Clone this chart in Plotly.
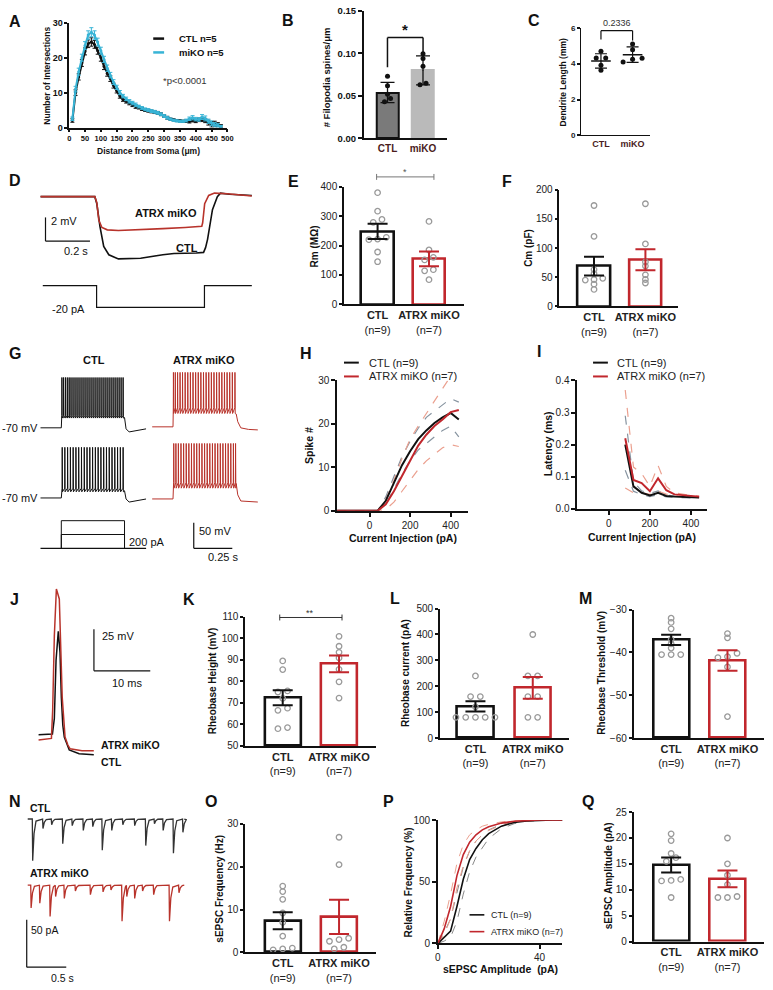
import plotly.graph_objects as go

W, H = 773, 990
FONT = "Liberation Sans, Arial, sans-serif"
BLACK = "#111111"
RED = "#c1272d"
TRED = "#b8332b"
GREY_PT = "#9a9a9a"
CYAN = "#38b4d6"
GREY_DASH = "#8794a0"
RED_DASH = "#eba08f"
MAROON = "#4a1c1c"

# ---------------- data ----------------
# A: Sholl analysis
sholl_r = list(range(10, 490, 10))
sholl_ctl = [2, 10, 14.5, 18.5, 21.8, 24, 24.5, 23.8, 22, 20, 17.5, 15.5, 14, 12, 10.5, 9, 8, 7.5,
             7, 6.5, 6, 5.7, 5.3, 5, 4.8, 4.6, 4.4, 4.2, 3.8, 3.3, 2.8, 2.4, 2.2, 2.0, 1.9, 1.8,
             1.8, 1.7, 2.0, 1.8, 2.2, 2.3, 2.0, 1.4, 0.9, 1.0, 0.8, 0.4]
sholl_ko = [2.5, 11, 16, 20, 23.5, 26.5, 27.3, 26.5, 24.5, 22, 19.5, 17, 15, 13, 11.5, 10, 9, 8.2,
            7.5, 7, 6.5, 6, 5.6, 5.2, 5, 4.7, 4.5, 4.2, 3.8, 3.3, 2.8, 2.4, 2.1, 1.9, 1.8, 1.8,
            2.0, 2.5, 2.8, 2.4, 2.3, 3.0, 2.6, 1.8, 1.2, 0.8, 0.6, 0.3]
sholl_ctl_sem = [0.5, 0.8, 0.9, 1.0, 1.0, 1.1, 1.2, 1.1, 1.0, 1.0, 0.9, 0.8, 0.8, 0.7, 0.6, 0.6, 0.5, 0.5,
                 0.5, 0.5, 0.5, 0.4, 0.4, 0.4, 0.4, 0.4, 0.4, 0.4, 0.4, 0.4, 0.4, 0.3, 0.3, 0.3, 0.3, 0.3,
                 0.3, 0.4, 0.4, 0.4, 0.5, 0.6, 0.6, 0.7, 0.8, 0.8, 0.6, 0.4]
sholl_ko_sem = [0.5, 0.8, 1.0, 1.0, 1.1, 1.2, 1.3, 1.2, 1.1, 1.0, 0.9, 0.9, 0.8, 0.7, 0.6, 0.6, 0.5, 0.5,
                0.5, 0.5, 0.5, 0.4, 0.4, 0.4, 0.4, 0.4, 0.4, 0.4, 0.4, 0.4, 0.4, 0.3, 0.3, 0.3, 0.3, 0.3,
                0.4, 0.5, 0.6, 0.5, 0.5, 0.7, 0.7, 0.6, 0.7, 0.6, 0.5, 0.3]

# B: filopodia spines
filo_ctl = [0.073, 0.062, 0.052, 0.047, 0.043]
filo_ko = [0.0997, 0.094, 0.085, 0.065, 0.063]
filo_mean = [0.054, 0.080]
filo_sd = [0.012, 0.017]

# C: dendrite length
dend_ctl = [4.69, 4.31, 4.31, 3.91, 3.63]
dend_ko = [5.1, 4.77, 4.3, 4.25, 4.09]
dend_mean = [4.15, 4.5]
dend_sd = [0.4, 0.43]

# D: hyperpolarising step response (s, mV relative to rest)
d_t_ctl = [0, 0.244, 0.253, 0.267, 0.284, 0.307, 0.35, 0.45, 0.55, 0.60, 0.70, 0.733, 0.742, 0.751,
           0.773, 0.795, 0.809, 0.85, 0.95]
d_v_ctl = [0, 0, -0.6, -2.5, -4.2, -4.9, -5.25, -5.2, -4.9, -4.8, -4.75, -4.7, -4.3, -3.6, -1.1, 0,
           0.3, 0.2, 0.1]
d_t_ko = [0, 0.244, 0.253, 0.262, 0.276, 0.30, 0.35, 0.45, 0.55, 0.65, 0.725, 0.729, 0.738, 0.756,
          0.782, 0.84, 0.95]
d_v_ko = [0, 0, -0.5, -2.0, -2.6, -2.8, -2.85, -2.8, -2.7, -2.6, -2.5, -2.2, -0.6, 0.1, 0.3, 0.25, 0.05]
d_step_t = [0.01, 0.252, 0.252, 0.737, 0.737, 0.95]
d_step_pa = [0, 0, -20, -20, 0, 0]

# E / F
rm_ctl = [380, 317, 289, 279, 228, 222, 220, 178, 145]
rm_ko = [282, 185, 160, 151, 118, 114, 84]
rm_mean = [248, 155]
rm_sem = [26, 25]
cm_ctl = [173, 120, 63, 56, 48, 46, 45, 38, 29]
cm_ko = [176, 107, 76, 69, 54, 46, 40]
cm_mean = [69, 80]
cm_sem = [16, 18]

# G: spike trains (ms from step onset)
g_spk_ctl1 = [3, 14, 26, 38, 50, 62, 75, 88, 101, 114, 127, 140, 153, 166, 179, 192, 205, 218, 231,
              244, 257, 270, 283, 296, 309, 322, 335, 348, 361, 374, 387, 400]
g_spk_ko1 = [2, 14, 29, 45, 61, 78, 95, 112, 129, 146, 163, 180, 197, 214, 231, 248, 265, 282, 299,
             316, 333, 350, 367, 384, 401]
g_spk_ctl2 = [5, 22, 40, 58, 76, 94, 112, 130, 148, 166, 184, 202, 220, 238, 256, 274, 292, 310, 328,
              346, 364, 382, 400]
g_spk_ko2 = [4, 18, 34, 51, 68, 85, 102, 119, 136, 153, 170, 187, 204, 221, 238, 255, 272, 289, 306,
             323, 340, 357, 374, 391, 405]
g_after_t = [0, 10, 30, 80, 140]
g_after_ctl1 = [-50, -72, -78, -75, -72]
g_after_ctl2 = [-56, -72, -78, -75, -72]
g_after_ko1 = [-45, -60, -72, -75, -76]
g_after_ko2 = [-40, -62, -74, -75, -76]
g_levels_pa = [200, 400]

# H / I: current injection (pA)
inj = [-160, -120, -80, -40, 0, 40, 80, 120, 160, 200, 240, 280, 320, 360, 400, 440]
spk_ctl = [0, 0, 0, 0, 0, 0, 2.3, 6.5, 10.5, 13.7, 16.5, 18.5, 20.2, 21.5, 22.5, 21]
spk_ctl_hi = [0, 0, 0, 0, 0, 0, 3.2, 8, 12.5, 16, 19, 21.5, 23, 24.5, 25.8, 25]
spk_ctl_lo = [0, 0, 0, 0, 0, 0, 1.5, 5, 8.5, 11.5, 14, 15.5, 17, 18.5, 19.5, 17]
spk_ko = [0, 0, 0, 0, 0, 0, 1.5, 4.5, 8, 11.5, 15, 17.5, 19.5, 21, 22.7, 23.2]
spk_ko_hi = [0, 0, 0, 0, 0, 0, 2.5, 7, 12, 16.5, 19.5, 22.3, 25, 28, 31, 33]
spk_ko_lo = [0, 0, 0, 0, 0, 0, 0.3, 2, 4.5, 7, 9.5, 11.5, 13, 14.5, 15.2, 14.8]
inj_lat = [80, 120, 160, 200, 240, 280, 320, 360, 400, 440]
lat_ctl = [0.20, 0.07, 0.05, 0.042, 0.05, 0.04, 0.038, 0.037, 0.036, 0.035]
lat_ctl_hi = [0.29, 0.085, 0.056, 0.048, 0.056, 0.043, 0.04, 0.039, 0.038, 0.037]
lat_ctl_lo = [0.12, 0.055, 0.044, 0.038, 0.044, 0.037, 0.036, 0.035, 0.034, 0.033]
lat_ko = [0.22, 0.09, 0.08, 0.055, 0.095, 0.058, 0.045, 0.042, 0.04, 0.038]
lat_ko_hi = [0.37, 0.13, 0.11, 0.07, 0.135, 0.07, 0.05, 0.045, 0.042, 0.04]
lat_ko_lo = [0.065, 0.05, 0.05, 0.045, 0.055, 0.046, 0.04, 0.038, 0.037, 0.035]

# J: rheobase action potentials (ms, mV)
j_t_ctl = [0, 2.46, 2.8, 3.1, 3.5, 3.8, 4.04, 4.3, 4.56, 5.0, 5.44, 7.2, 9.8]
j_v_ctl = [0.2, 0.6, 10, 45, 62.5, 50, 22.6, 6, -1.2, -5.5, -8.9, -11.3, -11.9]
j_t_ko = [0, 2.28, 2.5, 2.8, 3.16, 3.68, 4.2, 4.7, 5.2, 5.6, 7.7, 9.8]
j_v_ko = [-3, -2.0, 15, 60, 88, 82, 22.6, -1.2, -6, -8.3, -9.5, -9.5]

# K / L / M
rh_ctl = [89.4, 85.4, 75.5, 75, 72, 67.5, 66.5, 58.5, 58]
rh_ko = [100.8, 96.2, 93.4, 90.8, 85.5, 79.7, 72.2]
rh_mean = [72.3, 88]
rh_sem = [3.5, 3.9]
rc_ctl = [240, 160, 160, 120, 80, 80, 80, 80, 80]
rc_ko = [400, 240, 240, 160, 160, 80, 80]
rc_mean = [122, 194]
rc_sem = [20, 42]
rt_ctl = [-32, -33, -34.5, -37, -38, -39, -40.5, -40.5, -40.5]
rt_ko = [-35.6, -36.6, -40.2, -41, -41.2, -43.4, -55]
rt_mean = [-37.1, -41.9]
rt_sem = [1.2, 2.4]

# N: sEPSC events (s, pA)
n_ctl_t = [0.06, 0.19, 0.30, 0.44, 0.56, 0.70, 0.82, 0.94, 1.06, 1.20, 1.35, 1.49, 1.60, 1.71, 1.84, 1.96]
n_ctl_amp = [44, 10, 6, 26, 7, 12, 8, 33, 12, 6, 7, 28, 5, 12, 36, 14]
n_ko_t = [0.04, 0.15, 0.28, 0.35, 0.46, 0.60, 0.79, 0.95, 1.05, 1.19, 1.25, 1.35, 1.45, 1.59, 1.79, 1.91]
n_ko_amp = [24, 19, 33, 12, 14, 6, 10, 7, 5, 38, 12, 14, 6, 10, 38, 8]

# O / P / Q
fq_ctl = [15.5, 14.2, 12.4, 9.2, 7, 3.8, 1.0, 0.8, 0.6]
fq_ko = [26.9, 20.5, 3.3, 3.0, 2.6, 1.2, 0.8]
fq_mean = [7.4, 8.3]
fq_sem = [2.0, 4.0]
amp_x = [0, 2.5, 5, 7.5, 10, 12.5, 15, 17.5, 20, 25, 30, 35, 40, 45, 49]
cum_ctl = [0, 5, 10, 30, 52, 68, 77, 84, 89, 95, 98, 99.2, 99.8, 100, 100]
cum_ctl_hi = [0, 9, 20, 42, 62, 75, 83, 88, 92, 96.5, 98.5, 99.5, 100, 100, 100]
cum_ctl_lo = [0, 2, 5, 18, 40, 58, 70, 78, 85, 93, 97, 99, 99.6, 100, 100]
cum_ko = [0, 12, 30, 55, 72, 82, 88, 92, 94.5, 97.5, 99, 99.6, 100, 100, 100]
cum_ko_hi = [0, 18, 40, 65, 80, 88, 92, 95, 96.5, 98.5, 99.5, 99.8, 100, 100, 100]
cum_ko_lo = [0, 7, 20, 45, 63, 75, 83, 88, 91.5, 96, 98.5, 99.4, 99.9, 100, 100]
am_ctl = [20.8, 19.5, 17, 16.2, 15.5, 12, 11.8, 11.7, 8.5]
am_ko = [20, 15, 12.8, 11, 8.7, 8.5, 8.5]
am_mean = [14.8, 12.1]
am_sem = [1.45, 1.6]

GROUP_TICKS = ["<b>CTL</b><br>(n=9)", "<b>ATRX miKO</b><br>(n=7)"]

# ---------------- figure helpers ----------------
fig = go.Figure()
layout = {}
n_ax = [0]

AX = dict(showgrid=False, zeroline=False, showline=True, linecolor=BLACK, linewidth=1.5,
          ticks="outside", ticklen=4, tickwidth=1.5, tickcolor=BLACK,
          tickfont=dict(family=FONT, size=10, color="#222"), fixedrange=True)


def px(x):
    return x / W


def py(y):
    return 1 - y / H


def new_axes(box, xr, yr, xkw=None, ykw=None, hidden=False):
    n_ax[0] += 1
    s = "" if n_ax[0] == 1 else str(n_ax[0])
    x0, x1, y0, y1 = box
    xa = dict(AX, domain=[px(x0), px(x1)], range=xr, anchor="y" + s)
    ya = dict(AX, domain=[py(y1), py(y0)], range=yr, anchor="x" + s)
    if hidden:
        xa["visible"] = False
        ya["visible"] = False
    xa.update(xkw or {})
    ya.update(ykw or {})
    layout["xaxis" + s] = xa
    layout["yaxis" + s] = ya
    return "x" + s, "y" + s


def trace_axes(box, x_at, y_at):
    # x_at / y_at: (pixel, value, pixels per unit)
    x0, x1, y0, y1 = box
    xr = [x_at[1] + (x0 - x_at[0]) / x_at[2], x_at[1] + (x1 - x_at[0]) / x_at[2]]
    yr = [y_at[1] + (y_at[0] - y1) / y_at[2], y_at[1] + (y_at[0] - y0) / y_at[2]]
    return new_axes(box, xr, yr, hidden=True)


def txt(x, y, s, size=11, bold=False, anchor="center", color=BLACK, angle=0):
    fig.add_annotation(x=px(x), y=py(y), xref="paper", yref="paper", showarrow=False,
                       text=f"<b>{s}</b>" if bold else s, textangle=angle,
                       font=dict(size=size, family=FONT, color=color),
                       xanchor=anchor, yanchor="middle")


def seg(x0, y0, x1, y1, color=BLACK, width=1.5):
    fig.add_shape(type="line", xref="paper", yref="paper", x0=px(x0), y0=py(y0),
                  x1=px(x1), y1=py(y1), line=dict(color=color, width=width))


def line(xa, ya, x, y, color, width=1.2, dash=None, mode="lines", **kw):
    fig.add_trace(go.Scatter(x=x, y=y, mode=mode, xaxis=xa, yaxis=ya, hoverinfo="skip",
                             line=dict(color=color, width=width, dash=dash), **kw))


def spread(vals, span, tol=0.03, step=0.17):
    order = sorted(range(len(vals)), key=lambda i: vals[i])
    offs = [0.0] * len(vals)
    groups, cur = [], [order[0]]
    for i in order[1:]:
        if abs(vals[i] - vals[cur[-1]]) < tol * span:
            cur.append(i)
        else:
            groups.append(cur)
            cur = [i]
    groups.append(cur)
    for g in groups:
        for j, i in enumerate(g):
            offs[i] = (j - (len(g) - 1) / 2) * step
    return offs


def bar_panel(box, xr, yr, dtick, ctl, ko, mean, sem, bw=0.64):
    xa, ya = new_axes(box, xr, yr,
                      xkw=dict(tickvals=[0, 1], ticktext=GROUP_TICKS, ticks="",
                               tickfont=dict(family=FONT, size=11, color="#222")),
                      ykw=dict(dtick=dtick, tick0=yr[0], ticklen=3))
    base = yr[0]
    fig.add_trace(go.Bar(x=[0, 1], y=[m - base for m in mean], base=[base, base], width=bw,
                         marker=dict(color="white", line=dict(color=[BLACK, RED], width=2.6)),
                         xaxis=xa, yaxis=ya, hoverinfo="skip"))
    span = yr[1] - yr[0]
    for i, (pts, col) in enumerate(((ctl, BLACK), (ko, RED))):
        fig.add_trace(go.Scatter(x=[i + o for o in spread(pts, span)], y=pts, mode="markers",
                                 marker=dict(symbol="circle-open", size=5.5, color=GREY_PT,
                                             line=dict(width=1.3)),
                                 xaxis=xa, yaxis=ya, hoverinfo="skip"))
        fig.add_trace(go.Scatter(x=[i], y=[mean[i]], mode="markers",
                                 marker=dict(size=1, color=col),
                                 error_y=dict(type="data", array=[sem[i]], color=col,
                                              thickness=2, width=10),
                                 xaxis=xa, yaxis=ya, hoverinfo="skip"))
    return xa, ya


# ---------------- A ----------------
xa, ya = new_axes((67, 227, 17, 123), [0, 500], [0, 30],
                  xkw=dict(dtick=50, ticklen=3, tickfont=dict(family=FONT, size=7.5, color=BLACK),
                           tickprefix="<b>", ticksuffix="</b>"),
                  ykw=dict(dtick=10, ticklen=3, tickfont=dict(family=FONT, size=9, color=BLACK),
                           tickprefix="<b>", ticksuffix="</b>"))
for yv, sv, col in ((sholl_ctl, sholl_ctl_sem, BLACK), (sholl_ko, sholl_ko_sem, CYAN)):
    line(xa, ya, sholl_r, yv, col, width=2, mode="lines+markers",
         marker=dict(size=3, color=col),
         error_y=dict(type="data", array=sv, color=col, thickness=1, width=2))
seg(152, 33, 163, 33, BLACK, 2.5)
seg(152, 47, 163, 47, CYAN, 2.5)
txt(176, 33, "CTL n=5", 9.5, True, "left")
txt(176, 47, "miKO n=5", 9.5, True, "left")
txt(184, 75, "*p<0.0001", 9.5, False, "center", "#333")
txt(45, 70, "Number of Intersections", 8.5, True, angle=-90)
txt(147, 147, "Distance from Soma (μm)", 8.5, True)

# ---------------- B ----------------
xa, ya = new_axes((365, 449, 5, 134), [-0.67, 1.67], [0, 0.15],
                  xkw=dict(tickvals=[0, 1], ticktext=["<b>CTL</b>", "<b>miKO</b>"], ticks="",
                           tickfont=dict(family=FONT, size=10, color=MAROON)),
                  ykw=dict(dtick=0.05, tickformat=".2f",
                           tickfont=dict(family=FONT, size=9.5, color=BLACK),
                           tickprefix="<b>", ticksuffix="</b>"))
fig.add_trace(go.Bar(x=[0, 1], y=filo_mean, width=0.62, xaxis=xa, yaxis=ya, hoverinfo="skip",
                     marker=dict(color=["#7a7a7a", "#bababa"],
                                 line=dict(color=[BLACK, "#bababa"], width=2))))
for i, pts in enumerate((filo_ctl, filo_ko)):
    fig.add_trace(go.Scatter(x=[i + o for o in spread(pts, 0.15)], y=pts, mode="markers",
                             marker=dict(size=5, color=BLACK), xaxis=xa, yaxis=ya,
                             hoverinfo="skip"))
    fig.add_trace(go.Scatter(x=[i], y=[filo_mean[i]], mode="markers", marker=dict(size=1, color=BLACK),
                             error_y=dict(type="data", array=[filo_sd[i]], color=BLACK,
                                          thickness=1.3, width=7),
                             xaxis=xa, yaxis=ya, hoverinfo="skip"))
seg(389, 32, 425, 32, BLACK, 1.5)
seg(389, 32, 389, 62, BLACK, 1.5)
seg(425, 32, 425, 47, BLACK, 1.5)
txt(407, 24, "*", 15, True)
txt(327, 72, "# Filopodia spines/μm", 9.5, True, angle=-90)

# ---------------- C ----------------
xa, ya = new_axes((585, 655, 22, 131), [-0.625, 1.5625], [0, 6],
                  xkw=dict(tickvals=[0, 1], ticktext=["<b>CTL</b>", "<b>miKO</b>"], ticks="",
                           linewidth=1.2, tickfont=dict(family=FONT, size=9, color=MAROON)),
                  ykw=dict(dtick=2, ticklen=3, linewidth=1.2,
                           tickfont=dict(family=FONT, size=8, color="#222"),
                           tickprefix="<b>", ticksuffix="</b>"))
for i, pts in enumerate((dend_ctl, dend_ko)):
    fig.add_trace(go.Scatter(x=[i + o for o in spread(pts, 6, step=0.3)], y=pts, mode="markers",
                             marker=dict(size=5, color=BLACK), xaxis=xa, yaxis=ya,
                             hoverinfo="skip"))
    fig.add_trace(go.Scatter(x=[i - 0.31, i + 0.31], y=[dend_mean[i]] * 2, mode="lines",
                             line=dict(color=BLACK, width=1.5), xaxis=xa, yaxis=ya,
                             hoverinfo="skip"))
    fig.add_trace(go.Scatter(x=[i], y=[dend_mean[i]], mode="markers", marker=dict(size=1, color=BLACK),
                             error_y=dict(type="data", array=[dend_sd[i]], color=BLACK,
                                          thickness=1.2, width=6),
                             xaxis=xa, yaxis=ya, hoverinfo="skip"))
seg(605, 25, 637, 25, BLACK, 1.2)
seg(605, 25, 605, 34, BLACK, 1.2)
seg(637, 25, 637, 35, BLACK, 1.2)
txt(621, 17, "0.2336", 9, False, color="#333")
txt(567, 77, "Dendrite Length (mm)", 8.5, True, angle=-90)

# ---------------- D ----------------
xa, ya = trace_axes((30, 260, 170, 270), (38, 0, 225), (193, 0, 12))
line(xa, ya, d_t_ctl, d_v_ctl, BLACK, 1.6)
line(xa, ya, d_t_ko, d_v_ko, TRED, 1.6)
xa, ya = trace_axes((30, 260, 275, 312), (38, 0, 225), (283, 0, 1.1))
line(xa, ya, d_step_t, d_step_pa, BLACK, 1.2)
seg(43, 214, 43, 238, BLACK, 1.2)
seg(43, 238, 88, 238, BLACK, 1.2)
txt(47, 218, "2 mV", 11, anchor="left")
txt(60, 248, "0.2 s", 11, anchor="left")
txt(165, 210, "ATRX miKO", 11, True)
txt(186, 245, "CTL", 11, True)
txt(66, 307, "-20 pA", 11)

# ---------------- E / F ----------------
bar_panel((345, 466, 183, 302), [-0.654, 1.673], [0, 400], 100, rm_ctl, rm_ko, rm_mean, rm_sem)
seg(378, 173, 436, 173, "#777", 1)
seg(378, 170, 378, 176, "#777", 1)
seg(436, 170, 436, 176, "#777", 1)
txt(407, 168, "*", 9, False, color="#555")
txt(315, 243, "Rm (MΩ)", 10, True, angle=-90)
bar_panel((563, 683, 186, 304), [-0.673, 1.635], [0, 200], 50, cm_ctl, cm_ko, cm_mean, cm_sem)
txt(531, 245, "Cm (pF)", 10, True, angle=-90)


# ---------------- G ----------------
def spike_trace(spikes, rest, thr, ahp, peak, after_v):
    t, v = [-135, 0], [rest, rest]
    for s in spikes:
        t += [s, s + 0.8, s + 2.5]
        v += [thr, peak, ahp]
    t += [410 + a for a in g_after_t]
    v += after_v
    return t, v


for box, onset, base, spikes, lv, col, after in (
        ((30, 150, 360, 445), 59, 427, g_spk_ctl1, (-46, -51, 28), BLACK, g_after_ctl1),
        ((145, 265, 360, 445), 172, 426, g_spk_ko1, (-33, -44, 36), TRED, g_after_ko1),
        ((30, 150, 435, 512), 59, 498, g_spk_ctl2, (-51, -58, 28.6), BLACK, g_after_ctl2),
        ((145, 265, 435, 512), 172, 499, g_spk_ko2, (-38, -49, 38), TRED, g_after_ko2)):
    xa, ya = trace_axes(box, (onset, 0, 0.156), (base, -70, 0.52))
    t, v = spike_trace(spikes, -70, lv[0], lv[1], lv[2], after)
    line(xa, ya, t, v, col, 1.0)
xa, ya = trace_axes((30, 150, 512, 556), (59, 0, 0.156), (549, 0, 0.07))
line(xa, ya, [-135, 550], [0, 0], BLACK, 1.2)
for lvl in g_levels_pa:
    line(xa, ya, [0, 0, 410, 410], [0, lvl, lvl, 0], BLACK, 1.0)
txt(92, 358, "CTL", 11, True)
txt(203, 358, "ATRX miKO", 11, True)
txt(37, 427, "-70 mV", 11, anchor="right")
txt(37, 498, "-70 mV", 11, anchor="right")
txt(125, 543, "200 pA", 11, anchor="left")
seg(193, 523, 193, 549, BLACK, 1.2)
seg(193, 549, 232, 549, BLACK, 1.2)
txt(196, 531, "50 mV", 11, anchor="left")
txt(205, 558, "0.25 s", 11, anchor="left")

# ---------------- H ----------------
xa, ya = new_axes((338, 470, 379, 511), [-160, 483], [0, 30],
                  xkw=dict(tickvals=[0, 200, 400]), ykw=dict(dtick=10))
line(xa, ya, inj, spk_ctl_hi, GREY_DASH, 1.2, "dash")
line(xa, ya, inj, spk_ctl_lo, GREY_DASH, 1.2, "dash")
line(xa, ya, inj, spk_ko_hi, RED_DASH, 1.2, "dash")
line(xa, ya, inj, spk_ko_lo, RED_DASH, 1.2, "dash")
line(xa, ya, inj, spk_ctl, BLACK, 2)
line(xa, ya, inj, spk_ko, RED, 2)
seg(345, 361, 360, 361, BLACK, 2)
seg(345, 375, 360, 375, RED, 2)
txt(368, 361, "CTL (n=9)", 11, anchor="left", color="#222")
txt(368, 375, "ATRX miKO (n=7)", 11, anchor="left", color="#222")
txt(309, 445, "Spike #", 10.5, True, angle=-90)
txt(405, 539, "Current Injection (pA)", 10.5, True)

# ---------------- I ----------------
xa, ya = new_axes((581, 712, 379, 509), [-154, 477], [0, 0.4],
                  xkw=dict(tickvals=[0, 200, 400]), ykw=dict(dtick=0.1, tickformat=".1f"))
line(xa, ya, inj_lat, lat_ctl_hi, GREY_DASH, 1.2, "dash")
line(xa, ya, inj_lat, lat_ctl_lo, GREY_DASH, 1.2, "dash")
line(xa, ya, inj_lat, lat_ko_hi, RED_DASH, 1.2, "dash")
line(xa, ya, inj_lat, lat_ko_lo, RED_DASH, 1.2, "dash")
line(xa, ya, inj_lat, lat_ctl, BLACK, 2)
line(xa, ya, inj_lat, lat_ko, RED, 2)
seg(597, 361, 612, 361, BLACK, 2)
seg(597, 375, 612, 375, RED, 2)
txt(619, 361, "CTL (n=9)", 11, anchor="left", color="#222")
txt(619, 375, "ATRX miKO (n=7)", 11, anchor="left", color="#222")
txt(551, 443, "Latency (ms)", 10.5, True, angle=-90)
txt(647, 538, "Current Injection (pA)", 10.5, True)

# ---------------- J ----------------
xa, ya = trace_axes((30, 100, 580, 770), (36, 0, 5.7), (738, 0, 1.68))
line(xa, ya, j_t_ctl, j_v_ctl, BLACK, 1.5)
line(xa, ya, j_t_ko, j_v_ko, TRED, 1.5)
seg(92, 631, 92, 673, BLACK, 1.2)
seg(92, 673, 149, 673, BLACK, 1.2)
txt(98, 638, "25 mV", 11, anchor="left")
txt(108, 685, "10 ms", 11, anchor="left")
txt(97, 748, "ATRX miKO", 10.5, True, "left")
txt(97, 765, "CTL", 10.5, True, "left")

# ---------------- K / L / M ----------------
bar_panel((245, 377, 618, 749), [-0.667, 1.649], [50, 110], 10, rh_ctl, rh_ko, rh_mean, rh_sem)
seg(280, 619, 343, 619, "#333", 1)
seg(280, 616, 280, 622, "#333", 1)
seg(343, 616, 343, 622, "#333", 1)
txt(311, 614, "**", 9, False, color="#333")
txt(212, 683, "Rheobase Height (mV)", 10, True, angle=-90)
bar_panel((442, 573, 610, 741), [-0.621, 1.638], [0, 500], 100, rc_ctl, rc_ko, rc_mean, rc_sem)
txt(408, 675, "Rheobase current (pA)", 10, True, angle=-90)
bar_panel((638, 770, 611, 741), [-0.667, 1.649], [-60, -30], 10, rt_ctl, rt_ko, rt_mean, rt_sem)
txt(606, 675, "Rheobase Threshold (mV)", 10, True, angle=-90)


# ---------------- N ----------------
def epsc_trace(times, amps):
    t, v = [0.0], [0.0]
    for ts, a in zip(times, amps):
        t += [ts - 0.002, ts + 0.003, ts + 0.02, ts + 0.045]
        v += [0, -a, -a * 0.35, -a * 0.05]
    t.append(1.98)
    v.append(0)
    return t, v


xa, ya = trace_axes((20, 190, 800, 876), (25, 0, 80), (823, 0, 0.96))
t, v = epsc_trace(n_ctl_t, n_ctl_amp)
line(xa, ya, t, v, "#333", 1.3)
xa, ya = trace_axes((20, 190, 870, 940), (25, 0, 80), (890, 0, 0.96))
t, v = epsc_trace(n_ko_t, n_ko_amp)
line(xa, ya, t, v, TRED, 1.3)
txt(25, 812, "CTL", 10.5, True, "left")
txt(25, 878, "ATRX miKO", 10.5, True, "left")
seg(24, 925, 24, 973, BLACK, 1.2)
seg(24, 973, 64, 973, BLACK, 1.2)
txt(26, 935, "50 pA", 10.5, anchor="left")
txt(47, 984, "0.5 s", 10.5, anchor="left")

# ---------------- O / P / Q ----------------
bar_panel((245, 377, 828, 958), [-0.667, 1.649], [0, 30], 10, fq_ctl, fq_ko, fq_mean, fq_sem)
txt(219, 893, "sEPSC Frequency (Hz)", 10, True, angle=-90)

xa, ya = new_axes((440, 566, 824, 949), [0, 49], [0, 100],
                  xkw=dict(tickvals=[0, 40]), ykw=dict(dtick=50))
line(xa, ya, amp_x, cum_ctl_hi, "#888", 1, "dash")
line(xa, ya, amp_x, cum_ctl_lo, "#888", 1, "dash")
line(xa, ya, amp_x, cum_ko_hi, RED_DASH, 1, "dash")
line(xa, ya, amp_x, cum_ko_lo, RED_DASH, 1, "dash")
line(xa, ya, amp_x, cum_ctl, BLACK, 1.6)
line(xa, ya, amp_x, cum_ko, RED, 1.6)
seg(472, 920, 487, 920, BLACK, 1.6)
seg(472, 937, 487, 937, RED, 1.6)
txt(492, 920, "CTL (n=9)", 9, anchor="left", color="#222")
txt(492, 937, "ATRX miKO (n=7)", 9, anchor="left", color="#222")
txt(410, 887, "Relative Frequency (%)", 10, True, angle=-90)
txt(503, 975, "sEPSC Amplitude  (pA)", 10.5, True)

bar_panel((638, 770, 816, 947), [-0.667, 1.649], [0, 25], 5, am_ctl, am_ko, am_mean, am_sem)
txt(612, 880, "sEPSC Amplitude (pA)", 10, True, angle=-90)

# ---------------- panel letters ----------------
for s, x, y in (("A", 12, 16), ("B", 288, 15), ("C", 537, 15), ("D", 12, 177), ("E", 294, 178),
                ("F", 510, 178), ("G", 12, 352), ("H", 307, 352), ("I", 542, 350), ("J", 12, 601),
                ("K", 188, 601), ("L", 397, 600), ("M", 589, 600), ("N", 12, 805), ("O", 210, 805),
                ("P", 390, 805), ("Q", 592, 805)):
    txt(x, y, s, 16, True)

fig.update_layout(layout)
fig.update_layout(width=W, height=H, margin=dict(l=0, r=0, t=0, b=0),
                  paper_bgcolor="white", plot_bgcolor="white", showlegend=False,
                  font=dict(family=FONT, color=BLACK), bargap=0)
fig.write_html("out.html", config={"displayModeBar": False},
               post_script="document.body.style.margin='0px';")
